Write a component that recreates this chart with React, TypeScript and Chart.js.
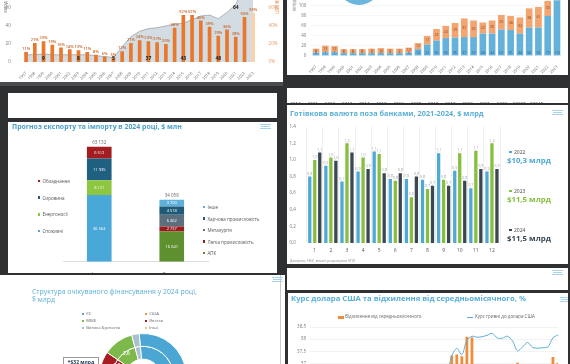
import React, { useEffect, useRef } from "react";
import { Chart, registerables } from "chart.js";

Chart.register(...registerables);

const FONT = "'Open Sans', 'Noto Sans', sans-serif";
Chart.defaults.font.family = FONT;

// ---------- Panel 1: borrowing (bn) and % of GDP ----------
const debtYears = ["1997","1998","1999","2000","2001","2002","2003","2004","2005","2006","2007","2008","2009","2010","2011","2012","2013","2014","2015","2016","2017","2018","2019","2020","2021","2022","2023"];
const debtPctGdp = [11,21,23,19,16,14,13,11,8,6,5,12,21,24,23,22,20,38,52,52,46,39,29,36,28,50,55];
const debtBn = [8,8,9,8,8,8,8,8,7,6,5,17,28,34,37,38,40,42,43,47,51,52,48,55,64,85,100];
const debtBnLabelIdx = [2,6,10,14,18,22,24];

// ---------- Panel 2: stacked bars ----------
const extYears = ["1997","1998","1999","2000","2001","2002","2003","2004","2005","2006","2007","2008","2009","2010","2011","2012","2013","2014","2015","2016","2017","2018","2019","2020","2021","2022","2023"];
const extPublic = [6,7,7,5,5,5,5,5,5,5,6,13,22,30,35,36,37,37,44,44,52,51,44,56,56,79,110];
const extPrivate = [8,13,12,8,8,8,9,10,9,9,10,12,17,23,24,29,37,33,22,26,29,28,32,38,41,30,25];
const pieShare = [1];

// ---------- Strip: table years ----------
const tableYears = ["2010","2011","2012","2013","2014","2015","2016","2017","2018","2019","2020","2021","2022","2023F","2024F"];

// ---------- Panel 3: export / import forecast ----------
const tradeCategories = ["Імпорт", "Експорт"];
const importLabels = ["Споживчі", "Енергоносії", "Сировина", "Обладнання"];
const importValues = [36564, 8121, 11935, 6512];
const importColors = ["#4aa8d8", "#8dc63f", "#1f5f80", "#a31c20"];
const exportLabels = ["АПК", "Легка промисловість", "Металургія", "Харчова промисловість", "Інше"];
const exportValues = [16641, 2737, 6462, 4518, 3700];
const exportColors = ["#5e9030", "#9b1b1e", "#5b6f7c", "#1f5a78", "#5fb1dc"];

// ---------- Panel 4: cash currency ----------
const months = ["1","2","3","4","5","6","7","8","9","10","11","12"];
const cashSeries = ["2022", "2023", "2024"];
const cash2022 = [0.80,0.93,0.74,0.86,1.10,0.77,0.77,0.76,1.08,0.87,0.66,0.86];
const cash2023 = [1.00,1.03,1.20,1.03,1.07,0.75,0.55,0.65,0.76,1.08,1.11,1.20];
const cash2024 = [1.09,0.99,1.09,0.89,0.84,0.84,0.80,0.69,0.69,0.75,0.89,0.89];
const cashColors = ["#4ea9d6", "#86bf3e", "#3b4853"];
const cashTotals = ["$10,3 млрд", "$11,5 млрд", "$11,5 млрд"];

// ---------- Panel 5: financing structure ----------
const finLabels = ["ЄС", "США", "Інші", "Японія", "МВФ", "Велика Британія"];
const finValues = [17.8, 6.7, 1.2, 1.8, 3.6, 0.9];
const finColors = ["#4ba6d3", "#f0913e", "#f6c08e", "#a61c22", "#7cb94a", "#a9bfcf"];
const finLegendLeft = ["ЄС", "МВФ", "Велика Британія"];
const finLegendRight = ["США", "Японія", "Інші"];

// ---------- Panel 6: USD rate ----------
const fxDates = ["24.03","31.03","07.04","14.04","21.04","28.04","05.05","12.05","19.05","26.05","02.06","09.06","16.06","23.06","30.06","07.07","14.07","21.07","28.07","04.08","11.08","18.08","25.08","01.09","08.09","15.09","22.09","29.09","06.10","13.10","20.10","27.10","03.11","10.11","17.11","24.11","01.12","08.12","15.12","22.12","29.12","05.01","12.01","19.01","26.01","02.02","09.02","16.02","23.02","01.03"];
const fxRate = [36.57,36.57,36.57,36.57,36.57,36.57,36.57,36.57,36.57,36.57,36.57,36.57,36.57,36.57,36.57,36.57,36.57,36.57,36.57,36.57,36.57,36.57,36.57,36.57,36.57,36.57,36.57,36.57,37.3,37.62,37.36,37.95,38.12,38.08,38.1,38.16,38.24,38.05,38.04,38.12,37.93,37.52,37.68,37.86,37.66,37.63,37.65,37.68,38.05,38.18];
const fxDev = [0,0,0,0,0,0,0,0,0,0,0,0,0,0,0,0,0,0,0,0,0,0,0,0,0,0,0,0,1.25,1.3,1.2,2.4,2.35,0.6,0.4,0.5,0.7,0.3,0.4,0.5,0.6,0.8,0.5,0.3,0.4,0.3,0.2,0.4,1.15,0.8];

// ---------- helpers ----------
const fmtThousands = (v: number) => String(v).replace(/\B(?=(\d{3})+(?!\d))/g, " ");
const fmtComma = (v: number, d = 1) => v.toFixed(d).replace(".", ",");
const sum = (a: number[]) => a.reduce((s, v) => s + v, 0);

function ChartCanvas({ x, y, w, h, config }: { x: number; y: number; w: number; h: number; config: () => any }) {
  const ref = useRef<HTMLCanvasElement | null>(null);
  useEffect(() => {
    if (!ref.current) return;
    const c = new Chart(ref.current, config());
    return () => c.destroy();
  }, []);
  return <canvas ref={ref} width={w} height={h} style={{ position: "absolute", left: x, top: y, width: w, height: h }} />;
}

function Panel({ x, y, w, h, children, bg = "#fff" }: any) {
  return <div style={{ position: "absolute", left: x, top: y, width: w, height: h, background: bg, overflow: "hidden" }}>{children}</div>;
}

function Txt({ x, y, size, color, weight = 400, children }: any) {
  return (
    <div style={{ position: "absolute", left: x, top: y - size * 0.6, fontSize: size, lineHeight: `${size * 1.2}px`, color, fontWeight: weight, whiteSpace: "nowrap", fontFamily: FONT }}>
      {children}
    </div>
  );
}

function VTxt({ cx, cy, size, color, deg, children }: any) {
  return (
    <div style={{ position: "absolute", left: cx, top: cy, fontSize: size, lineHeight: 1, color, whiteSpace: "nowrap", transform: `translate(-50%,-50%) rotate(${deg}deg)`, fontFamily: FONT }}>
      {children}
    </div>
  );
}

function LegendItem({ x, y, color, label, size = 4.5, textColor = "#555" }: any) {
  return (
    <div style={{ position: "absolute", left: x, top: y - size * 0.6, height: size * 1.2, display: "flex", alignItems: "center", fontSize: size, color: textColor, whiteSpace: "nowrap", fontFamily: FONT }}>
      <span style={{ width: size * 0.55, height: size * 0.55, background: color, marginRight: size * 0.45, display: "inline-block" }} />
      {label}
    </div>
  );
}

function Logo({ x, y }: any) {
  return (
    <div style={{ position: "absolute", left: x, top: y }}>
      <div style={{ width: 11, height: 1, background: "#a9d3ea", marginBottom: 1 }} />
      <div style={{ width: 9, height: 1, background: "#a9d3ea", marginBottom: 1, marginLeft: 1 }} />
      <div style={{ width: 11, height: 1, background: "#a9d3ea" }} />
    </div>
  );
}

const noPlugins = { legend: { display: false }, tooltip: { enabled: false } };

// ---------- configs ----------
const p1Labels = {
  id: "p1Labels",
  afterDatasetsDraw(chart: any) {
    const { ctx, chartArea } = chart;
    ctx.save();
    ctx.textAlign = "center";
    ctx.textBaseline = "bottom";
    ctx.font = `600 4px ${FONT}`;
    ctx.fillStyle = "#c4662a";
    chart.getDatasetMeta(1).data.forEach((el: any, i: number) => ctx.fillText(debtPctGdp[i] + "%", el.x, el.y - 1));
    ctx.font = `700 5px ${FONT}`;
    ctx.fillStyle = "#222";
    ctx.textBaseline = "middle";
    const pts = chart.getDatasetMeta(0).data;
    debtBnLabelIdx.forEach((i) => {
      const el = pts[i];
      const y = debtBn[i] > 55 ? el.y + 3 : chartArea.bottom - 3;
      ctx.fillText(String(debtBn[i]), el.x, y);
    });
    ctx.restore();
  },
};

function p1Config() {
  return {
    type: "bar",
    data: {
      labels: debtYears,
      datasets: [
        { type: "line", label: "млрд", data: debtBn, yAxisID: "y", fill: "origin", backgroundColor: "#d4dce3", borderColor: "#9ba5ae", borderWidth: 0.8, pointRadius: 0, tension: 0, order: 2 },
        { type: "bar", label: "% ВВП", data: debtPctGdp, yAxisID: "y1", backgroundColor: debtPctGdp.map((_, i) => (i === debtPctGdp.length - 1 ? "#f8d2ad" : "#e8782b")), barPercentage: 0.42, categoryPercentage: 1, order: 1 },
      ],
    },
    options: {
      responsive: false, animation: false, events: [],
      layout: { padding: { top: 4, left: 0, right: 0, bottom: 0 } },
      plugins: noPlugins,
      scales: {
        x: { grid: { display: false }, border: { display: false }, ticks: { font: { size: 4, family: FONT }, color: "#666", minRotation: 45, maxRotation: 45, autoSkip: false, padding: 1 }, afterFit: (s: any) => { s.height = 20; } },
        y: { position: "left", min: 0, max: 75.7, grid: { display: false }, border: { display: false }, ticks: { stepSize: 20, font: { size: 4.5, family: FONT }, color: "#777", padding: 3 }, afterBuildTicks: (a: any) => { a.ticks = a.ticks.filter((t: any) => t.value % 20 === 0 && t.value <= 60); }, afterFit: (s: any) => { s.width = 21.7; } },
        y1: { position: "right", min: 0, max: 75.7, grid: { display: false }, border: { display: false }, ticks: { stepSize: 20, font: { size: 4.5, family: FONT }, color: "#e39a63", padding: 3, callback: (v: any) => v + "%" }, afterBuildTicks: (a: any) => { a.ticks = a.ticks.filter((t: any) => t.value % 20 === 0 && t.value <= 60); }, afterFit: (s: any) => { s.width = 25.4; } },
      },
    },
    plugins: [p1Labels],
  };
}

const p2Labels = {
  id: "p2Labels",
  afterDatasetsDraw(chart: any) {
    const ctx = chart.ctx;
    ctx.save();
    ctx.textAlign = "center";
    ctx.textBaseline = "middle";
    ctx.font = `3.5px ${FONT}`;
    ctx.fillStyle = "#2f5f7a";
    chart.getDatasetMeta(0).data.forEach((el: any, i: number) => ctx.fillText(String(extPublic[i]), el.x, el.base - 2.5));
    ctx.fillStyle = "#8a4a20";
    chart.getDatasetMeta(1).data.forEach((el: any, i: number) => ctx.fillText(String(extPrivate[i]), el.x, (el.y + el.base) / 2));
    ctx.restore();
  },
};

function p2Config() {
  return {
    type: "bar",
    data: {
      labels: extYears,
      datasets: [
        { label: "Державний", data: extPublic, backgroundColor: "#64b2dc", barPercentage: 0.72, categoryPercentage: 1, clip: false },
        { label: "Приватний", data: extPrivate, backgroundColor: "#f3a46f", barPercentage: 0.72, categoryPercentage: 1, clip: false },
      ],
    },
    options: {
      responsive: false, animation: false, events: [],
      layout: { padding: { top: 4, left: 0, right: 6.4, bottom: 0 } },
      plugins: noPlugins,
      scales: {
        x: { stacked: true, grid: { display: false }, border: { display: false }, ticks: { font: { size: 4, family: FONT }, color: "#666", minRotation: 45, maxRotation: 45, autoSkip: false, padding: 1 }, afterFit: (s: any) => { s.height = 19.3; } },
        y: { stacked: true, min: 0, max: 115.3, grid: { color: "#f0f0f0", lineWidth: 0.6, drawTicks: false }, border: { display: false }, ticks: { stepSize: 20, font: { size: 4.5, family: FONT }, color: "#777", padding: 5 }, afterBuildTicks: (a: any) => { a.ticks = a.ticks.filter((t: any) => t.value % 20 === 0 && t.value <= 100); }, afterFit: (s: any) => { s.width = 24.4; } },
      },
    },
    plugins: [p2Labels],
  };
}

function pieConfig() {
  return {
    type: "pie",
    data: { labels: ["частка"], datasets: [{ data: pieShare, backgroundColor: ["#6cb6dd"], borderWidth: 0 }] },
    options: { responsive: false, animation: false, events: [], plugins: noPlugins, layout: { padding: 0 } },
  };
}

function stripConfig() {
  return {
    type: "bar",
    data: { labels: tableYears, datasets: [{ label: "", data: tableYears.map(() => null) }] },
    options: {
      responsive: false, animation: false, events: [],
      layout: { padding: { top: 0, left: 0, right: 23, bottom: 0 } },
      plugins: noPlugins,
      scales: {
        x: { grid: { display: false }, border: { display: false }, ticks: { font: { size: 4.5, family: FONT }, color: "#555", maxRotation: 0, autoSkip: false, padding: 2 }, afterFit: (s: any) => { s.height = 11; } },
        y: { display: false },
      },
    },
  };
}

const p3Labels = {
  id: "p3Labels",
  afterDatasetsDraw(chart: any) {
    const ctx = chart.ctx;
    ctx.save();
    ctx.textAlign = "center";
    ctx.textBaseline = "middle";
    ctx.font = `4px ${FONT}`;
    ctx.fillStyle = "#fff";
    const tops: number[] = [Infinity, Infinity];
    const xs: number[] = [0, 0];
    chart.data.datasets.forEach((ds: any, di: number) => {
      chart.getDatasetMeta(di).data.forEach((el: any, i: number) => {
        const v = ds.data[i];
        if (v == null) return;
        ctx.fillText(fmtThousands(v), el.x, (el.y + el.base) / 2);
        tops[i] = Math.min(tops[i], el.y);
        xs[i] = el.x;
      });
    });
    ctx.fillStyle = "#666";
    ctx.font = `4.5px ${FONT}`;
    ctx.textBaseline = "bottom";
    const totals = [sum(importValues), sum(exportValues)];
    totals.forEach((t, i) => ctx.fillText(fmtThousands(t), xs[i], tops[i] - 2));
    ctx.restore();
  },
};

function p3Config() {
  const datasets = [
    ...importLabels.map((l, i) => ({ label: l, data: [importValues[i], null], backgroundColor: importColors[i] })),
    ...exportLabels.map((l, i) => ({ label: l, data: [null, exportValues[i]], backgroundColor: exportColors[i] })),
  ].map((d) => ({ ...d, barPercentage: 0.34, categoryPercentage: 1 }));
  return {
    type: "bar",
    data: { labels: tradeCategories, datasets },
    options: {
      responsive: false, animation: false, events: [],
      layout: { padding: { top: 12.2, left: 55, right: 69, bottom: 0 } },
      plugins: noPlugins,
      scales: {
        x: { stacked: true, grid: { display: false }, border: { display: true, color: "#d5d5d5", width: 0.8 }, ticks: { font: { size: 4.5, family: FONT }, color: "#555", padding: 2.5 }, afterFit: (s: any) => { s.height = 11.3; } },
        y: { stacked: true, display: false, min: 0, max: 70000 },
      },
    },
    plugins: [p3Labels],
  };
}

const p4Labels = {
  id: "p4Labels",
  afterDatasetsDraw(chart: any) {
    const ctx = chart.ctx;
    ctx.save();
    ctx.font = `3.8px ${FONT}`;
    ctx.fillStyle = "#a0a0a0";
    ctx.textAlign = "center";
    ctx.textBaseline = "bottom";
    chart.data.datasets.forEach((ds: any, di: number) => {
      chart.getDatasetMeta(di).data.forEach((el: any, i: number) => ctx.fillText(fmtComma(ds.data[i]), el.x, el.y - 1));
    });
    ctx.restore();
  },
};

function p4Config() {
  const series = [cash2022, cash2023, cash2024];
  return {
    type: "bar",
    data: {
      labels: months,
      datasets: series.map((d, i) => ({ label: cashSeries[i], data: d, backgroundColor: cashColors[i], barPercentage: 0.66, categoryPercentage: 0.93 })),
    },
    options: {
      responsive: false, animation: false, events: [],
      layout: { padding: { top: 8.7, left: 0, right: 17, bottom: 0 } },
      plugins: noPlugins,
      scales: {
        x: { grid: { display: true, color: "#e6e6e6", lineWidth: 0.7, drawTicks: false, offset: true }, border: { display: false }, ticks: { font: { size: 5, family: FONT }, color: "#555", padding: 5 }, afterFit: (s: any) => { s.height = 15; } },
        y: { min: 0, max: 1.4, grid: { display: false }, border: { display: false }, ticks: { stepSize: 0.2, font: { size: 4.5, family: FONT }, color: "#777", padding: 3, callback: (v: any) => fmtComma(Number(v)) }, afterFit: (s: any) => { s.width = 19.7; } },
      },
    },
    plugins: [p4Labels],
  };
}

const p5Labels = {
  id: "p5Labels",
  afterDatasetsDraw(chart: any) {
    const ctx = chart.ctx;
    ctx.save();
    ctx.font = `600 5px ${FONT}`;
    ctx.fillStyle = "#fff";
    ctx.textAlign = "center";
    ctx.textBaseline = "middle";
    chart.getDatasetMeta(1).data.forEach((el: any, i: number) => {
      if (finValues[i] < 1) return;
      const a = (el.startAngle + el.endAngle) / 2;
      const r = el.outerRadius - 2;
      ctx.fillText(fmtComma(finValues[i]), el.x + Math.cos(a) * r, el.y + Math.sin(a) * r);
    });
    ctx.restore();
  },
};

function p5Config() {
  return {
    type: "doughnut",
    data: {
      labels: finLabels,
      datasets: [
        { data: finValues, backgroundColor: finColors, borderColor: "#fff", borderWidth: 1 },
        { data: finValues, backgroundColor: finColors, borderColor: "#fff", borderWidth: 1 },
      ],
    },
    options: { responsive: false, animation: false, events: [], cutout: "41%", rotation: -5, plugins: noPlugins, layout: { padding: 0 } },
    plugins: [p5Labels],
  };
}

function p6Config() {
  return {
    type: "bar",
    data: {
      labels: fxDates,
      datasets: [
        { type: "line", label: "Курс гривні до долара США", data: fxRate, yAxisID: "y", borderColor: "#5aaed8", borderWidth: 1, pointRadius: 0, tension: 0.3, order: 1 },
        { type: "bar", label: "Відхилення від середньомісячного", data: fxDev, yAxisID: "y1", backgroundColor: "#f08c3a", barPercentage: 0.55, categoryPercentage: 1, order: 2 },
      ],
    },
    options: {
      responsive: false, animation: false, events: [],
      layout: { padding: { top: 17, left: 0, right: 0, bottom: 0 } },
      plugins: noPlugins,
      scales: {
        x: { display: false, offset: false },
        y: { position: "left", min: 35.981, max: 38.5, grid: { color: "#ececec", lineWidth: 0.7, drawTicks: false }, border: { display: false }, ticks: { stepSize: 0.5, font: { size: 4.5, family: FONT }, color: "#777", padding: 4, callback: (v: any) => String(v).replace(".", ",") }, afterFit: (s: any) => { s.width = 22; } },
        y1: { position: "right", min: -0.778, max: 3, grid: { display: false }, border: { display: false }, ticks: { stepSize: 0.5, font: { size: 4.5, family: FONT }, color: "#777", padding: 3, callback: (v: any) => fmtComma(Number(v), 2) + "%" }, afterFit: (s: any) => { s.width = 10; } },
      },
    },
  };
}

export default function App() {
  return (
    <div style={{ position: "fixed", left: 0, top: 0, width: 570, height: 364, overflow: "hidden", background: "#2f3032", fontFamily: FONT }}>
      {/* Panel 1 */}
      <Panel x={0} y={0} w={283} h={82}>
        <ChartCanvas x={0} y={-12} w={283} h={94} config={p1Config} />
        <VTxt cx={5} cy={7} size={4.5} color="#777" deg={-90}>млрд</VTxt>
        <VTxt cx={277} cy={7} size={4.5} color="#e8782b" deg={90}>% ВВП</VTxt>
      </Panel>
      <div style={{ position: "absolute", left: 0, top: 82, width: 283, height: 4, background: "#4a4b4d" }} />

      {/* Panel 2 */}
      <Panel x={287} y={0} w={281} h={75}>
        <ChartCanvas x={50} y={-39} w={44} h={44} config={pieConfig} />
        <ChartCanvas x={0} y={-10} w={281} h={85} config={p2Config} />
        <VTxt cx={7} cy={5} size={4.5} color="#777" deg={-90}>млрд</VTxt>
      </Panel>

      {/* strip with table years */}
      <Panel x={287} y={88} w={281} h={15}>
        <ChartCanvas x={0} y={0} w={281} h={15} config={stripConfig} />
      </Panel>

      {/* empty strip */}
      <Panel x={8} y={93} w={269} h={25} />

      {/* Panel 3 */}
      <Panel x={8} y={122} w={269} h={151}>
        <ChartCanvas x={0} y={0} w={269} h={151} config={p3Config} />
        <Txt x={4} y={5} size={6.9} color="#4a9fcb" weight={700}>Прогноз експорту та імпорту в 2024 році, $ млн</Txt>
        <Logo x={252} y={2} />
        {importLabels.map((l, i) => ({ l, c: importColors[i] })).reverse().map((it, k) => (
          <LegendItem key={it.l} x={30} y={59 + k * 16.7} color={it.c} label={it.l} />
        ))}
        {exportLabels.map((l, i) => ({ l, c: exportColors[i] })).reverse().map((it, k) => (
          <LegendItem key={it.l} x={195} y={85 + k * 11.5} color={it.c} label={it.l} />
        ))}
      </Panel>

      {/* Panel 4 */}
      <Panel x={287} y={105} w={281} h={159}>
        <ChartCanvas x={0} y={13} w={230} h={140} config={p4Config} />
        <Txt x={3} y={8} size={7.3} color="#5ab0d8" weight={700}>Готівкова валюта поза банками, 2021-2024, $ млрд</Txt>
        <Logo x={265} y={5} />
        {cashSeries.map((s, i) => (
          <React.Fragment key={s}>
            <LegendItem x={222} y={47 + i * 39} color={cashColors[i]} label={s} size={5} textColor="#444" />
            <Txt x={220} y={56 + i * 39} size={7.8} color={cashColors[i]} weight={700}>{cashTotals[i]}</Txt>
          </React.Fragment>
        ))}
        <Txt x={3} y={156} size={3.5} color="#888">Джерело: НБУ, власні розрахунки УПЗ</Txt>
      </Panel>

      {/* strip */}
      <Panel x={287} y={268} w={281} h={22}>
        <Logo x={265} y={2} />
      </Panel>

      {/* Panel 6 */}
      <Panel x={288} y={293} w={280} h={71}>
        <Txt x={3} y={6} size={7.7} color="#5ab0d8" weight={700}>Курс долара США та відхилення від середньомісячного, %</Txt>
        <Logo x={272} y={4} />
        <div style={{ position: "absolute", left: 50, top: 22.5, width: 6, height: 3, background: "#f08c3a" }} />
        <Txt x={57} y={24} size={4.5} color="#666">Відхилення від середньомісячного</Txt>
        <div style={{ position: "absolute", left: 179, top: 23.5, width: 6, height: 1, background: "#5aaed8" }} />
        <Txt x={187} y={24} size={4.5} color="#666">Курс гривні до долара США</Txt>
        <ChartCanvas x={0} y={17} w={280} h={85} config={p6Config} />
      </Panel>

      {/* Panel 5 */}
      <Panel x={0} y={275} w={285} h={89}>
        <Txt x={32} y={17} size={6.9} color="#5aaed6">Структура очікуваного фінансування у 2024 році,</Txt>
        <Txt x={32} y={25} size={6.9} color="#5aaed6">$ млрд</Txt>
        {finLegendLeft.map((l, k) => (
          <LegendItem key={l} x={82} y={39 + k * 7} color={finColors[finLabels.indexOf(l)]} label={l} size={4.2} textColor="#666" />
        ))}
        {finLegendRight.map((l, k) => (
          <LegendItem key={l} x={145} y={39 + k * 7} color={finColors[finLabels.indexOf(l)]} label={l} size={4.2} textColor="#666" />
        ))}
        <ChartCanvas x={99} y={58} w={88} h={88} config={p5Config} />
        <div style={{ position: "absolute", left: 63, top: 82, width: 34, height: 12, border: "1px solid #9a9a9a", fontSize: 5, fontWeight: 700, color: "#1f3550", textAlign: "center", lineHeight: "9px", fontFamily: FONT }}>*$32 млрд</div>
        <div style={{ position: "absolute", left: 280, top: 0, width: 1, height: 89, background: "#c8c8c8" }} />
        <Logo x={272} y={2} />
      </Panel>
    </div>
  );
}
